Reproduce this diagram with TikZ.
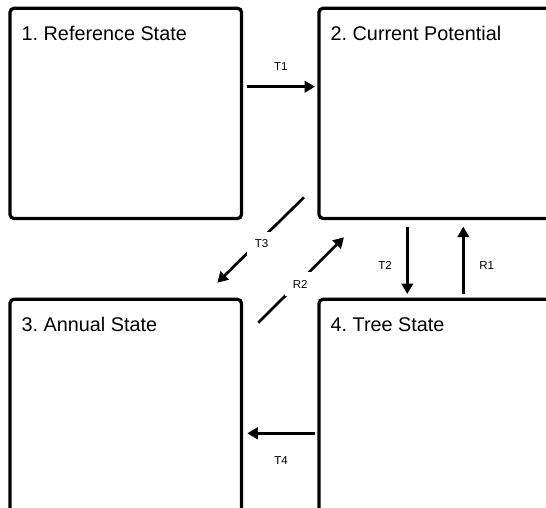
\documentclass[tikz,border=0pt]{standalone}
\usepackage{fontspec}
\setmainfont{Liberation Sans}
\usetikzlibrary{arrows.meta,calc}
\frenchspacing
\begin{document}
\begin{tikzpicture}[x=1pt,y=-1pt,
  box/.style={draw=black, line width=3.2pt, rounded corners=4pt, minimum width=231.5pt, minimum height=210.2pt, inner sep=0pt, outer sep=0pt},
  lowbox/.style={box, minimum height=214pt},
  ttl/.style={anchor=base west, inner sep=0pt, font=\fontsize{19.8}{23}\selectfont},
  arr/.style={line width=2.7pt, -{Triangle[length=10.5pt,width=11.5pt]}},
  lbl/.style={font=\fontsize{11.5}{13}\selectfont, inner sep=0pt},
  gaplbl/.style={lbl, fill=white, inner sep=7.5pt}]
\useasboundingbox (0,0) rectangle (546,508);
\clip (0,0) rectangle (546,508);
\node[box] (b1) at (125.75,113.4) {};
\node[box] (b2) at (434.75,113.4) {};
\node[lowbox] (b3) at (125.75,406.3) {};
\node[lowbox] (b4) at (434.75,406.3) {};
\node[ttl] (t1) at ($(b1.north west)+(11.5,31.8)$) {1. Reference State};
\node[ttl] (t2) at ($(b2.north west)+(11.5,31.8)$) {2. Current Potential};
\node[ttl] (t3) at ($(b3.north west)+(11.5,31.8)$) {3. Annual State};
\node[ttl] (t4) at ($(b4.north west)+(11.5,31.8)$) {4. Tree State};
% T1
\draw[arr] ($(b1.east)+(5.2,-26.7)$) -- node[lbl, yshift=20pt] {T1} ($(b2.west)+(-4,-26.7)$);
% T4
\draw[arr] ($(b4.west)+(-4,27)$) -- node[lbl, yshift=-27.7pt] {T4} ($(b3.east)+(5.8,27)$);
% T2
\draw[arr] ($(b2.south)+(-27.45,8.2)$) -- node[lbl, xshift=-22.3pt, yshift=-4.7pt] {T2} ($(b4.north)+(-27.45,-5.3)$);
% R1
\draw[arr] ($(b4.north)+(28.55,-5.3)$) -- node[lbl, xshift=23.4pt, yshift=-4.7pt] {R1} ($(b2.south)+(28.55,8.2)$);
% T3
\draw[arr] ($(b2.south west)+(-15,-21.2)$) -- node[gaplbl, xshift=1pt, yshift=-4pt] {T3} ($(b3.north east)+(-24.2,-16.6)$);
% R2
\draw[arr] ($(b3.north east)+(16.8,23.4)$) -- node[gaplbl, xshift=-1pt, yshift=-4pt] {R2} ($(b2.south west)+(25,18.8)$);
\end{tikzpicture}
\end{document}
